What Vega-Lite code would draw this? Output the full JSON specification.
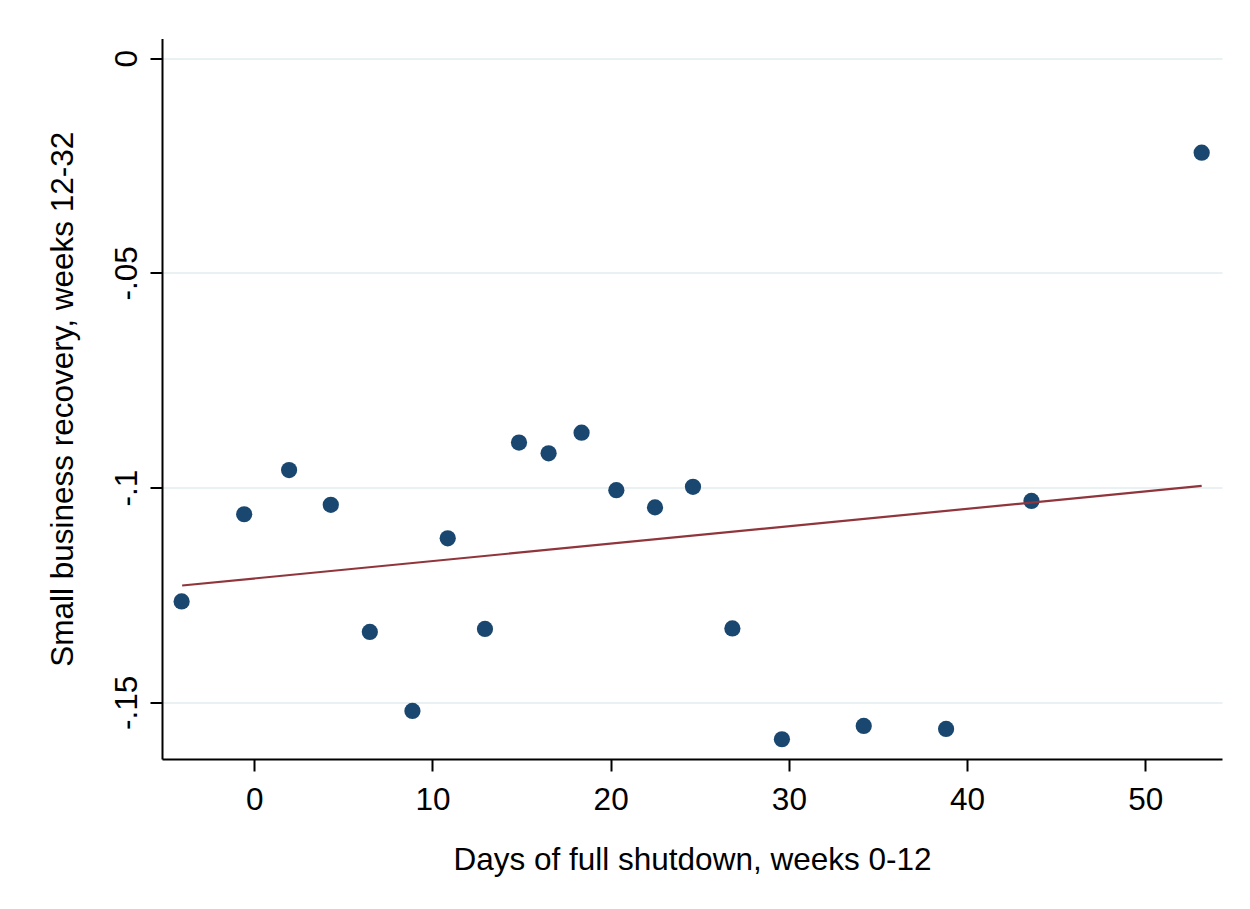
{
  "$schema": "https://vega.github.io/schema/vega-lite/v6.json",
  "width": 1060,
  "height": 720.5,
  "autosize": {"type": "none"},
  "padding": {"left": 162, "top": 38.5, "right": 27, "bottom": 150},
  "background": "white",
  "config": {"view": {"stroke": null}, "font": "Liberation Sans"},
  "datasets": {
    "points": [
      {"days": -4.07, "recovery": -0.1265},
      {"days": -0.56, "recovery": -0.1062},
      {"days": 1.96, "recovery": -0.0959},
      {"days": 4.30, "recovery": -0.1040},
      {"days": 6.49, "recovery": -0.1336},
      {"days": 8.88, "recovery": -0.1520},
      {"days": 10.86, "recovery": -0.1118},
      {"days": 12.95, "recovery": -0.1329},
      {"days": 14.86, "recovery": -0.0895},
      {"days": 16.52, "recovery": -0.0920},
      {"days": 18.37, "recovery": -0.0872},
      {"days": 20.32, "recovery": -0.1006},
      {"days": 22.49, "recovery": -0.1046},
      {"days": 24.62, "recovery": -0.0998},
      {"days": 26.83, "recovery": -0.1328},
      {"days": 29.61, "recovery": -0.1586},
      {"days": 34.20, "recovery": -0.1555},
      {"days": 38.82, "recovery": -0.1562},
      {"days": 43.61, "recovery": -0.1031},
      {"days": 53.16, "recovery": -0.0220}
    ],
    "fit": [
      {"days": -4.04, "recovery": -0.1228},
      {"days": 53.16, "recovery": -0.0996}
    ]
  },
  "encoding": {
    "x": {
      "field": "days",
      "type": "quantitative",
      "scale": {"domain": [-5.17, 54.3], "nice": false, "zero": false},
      "axis": {
        "values": [0, 10, 20, 30, 40, 50],
        "grid": false,
        "tickSize": 12,
        "tickWidth": 2,
        "tickColor": "#000000",
        "domainWidth": 2,
        "domainColor": "#000000",
        "labelFontSize": 31.5,
        "labelColor": "#000000",
        "labelPadding": 13,
        "labelFlush": false,
        "labelOverlap": false,
        "title": "Days of full shutdown, weeks 0-12",
        "titleFontSize": 31.5,
        "titleFontWeight": "normal",
        "titleColor": "#000000",
        "titlePadding": 29
      }
    },
    "y": {
      "field": "recovery",
      "type": "quantitative",
      "scale": {"domain": [-0.1632, 0.0046], "nice": false, "zero": false},
      "axis": {
        "values": [0, -0.05, -0.1, -0.15],
        "labelExpr": "datum.value == 0 ? '0' : replace(toString(datum.value), '0.', '.')",
        "grid": true,
        "gridColor": "#e9f1f2",
        "gridWidth": 2,
        "tickSize": 12,
        "tickWidth": 2,
        "tickColor": "#000000",
        "domainWidth": 2,
        "domainColor": "#000000",
        "labelAngle": 270,
        "labelAlign": "center",
        "labelBaseline": "bottom",
        "labelFontSize": 31.5,
        "labelColor": "#000000",
        "labelPadding": 7,
        "labelFlush": false,
        "labelOverlap": false,
        "title": "Small business recovery, weeks 12-32",
        "titleFontSize": 31.5,
        "titleFontWeight": "normal",
        "titleColor": "#000000",
        "titlePadding": 32
      }
    }
  },
  "layer": [
    {
      "data": {"name": "points"},
      "mark": {"type": "circle", "size": 263, "color": "#1a476f", "opacity": 1}
    },
    {
      "data": {"name": "fit"},
      "mark": {"type": "line", "color": "#90353b", "strokeWidth": 2.2}
    }
  ]
}
